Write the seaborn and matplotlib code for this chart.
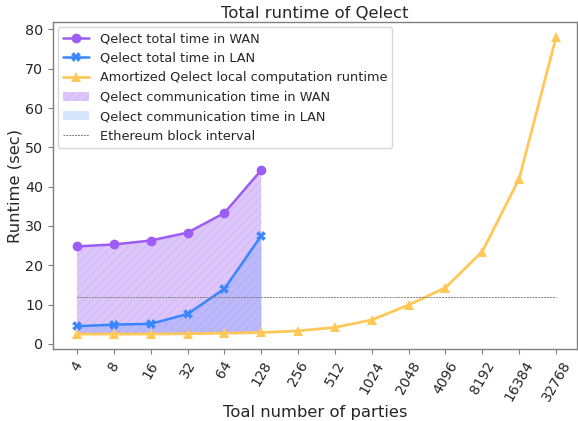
import numpy as np
import pandas as pd
import matplotlib
matplotlib.use("Agg")
import matplotlib.pyplot as plt
import seaborn as sns
from matplotlib.patches import Patch
from matplotlib.lines import Line2D

parties = ["4", "8", "16", "32", "64", "128", "256", "512", "1024", "2048",
           "4096", "8192", "16384", "32768"]
wan_total = [24.8, 25.3, 26.3, 28.3, 33.3, 44.2]
lan_total = [4.5, 4.9, 5.1, 7.6, 14.0, 27.5]
local_runtime = [2.5, 2.5, 2.5, 2.6, 2.7, 2.9, 3.3, 4.2, 6.1, 9.9, 14.3, 23.5, 42.0, 78.0]
eth_block = 12

c_wan = "#9d5cf3"
c_lan = "#3a86ff"
c_loc = "#ffc857"

sns.set_style("white")
plt.rcParams['font.family'] = ['DejaVu Sans']
plt.rcParams['hatch.linewidth'] = 0.5

fig = plt.figure(figsize=(5.78, 4.21), dpi=100)
ax = fig.add_axes([53/578, 1-349/421, (577-53)/578, (349-22)/421])

idx_all = np.arange(len(parties))
n = len(wan_total)
idx = idx_all[:n]

df_wan = pd.DataFrame({"x": idx, "y": wan_total})
df_lan = pd.DataFrame({"x": idx, "y": lan_total})
df_loc = pd.DataFrame({"x": idx_all, "y": local_runtime})

ax.fill_between(idx, local_runtime[:n], wan_total, facecolor=c_wan, alpha=0.35,
                hatch="////", edgecolor="#b58cf0", linewidth=0)
ax.fill_between(idx, local_runtime[:n], lan_total, facecolor=c_lan, alpha=0.2,
                linewidth=0)

sns.lineplot(data=df_wan, x="x", y="y", ax=ax, color=c_wan, marker="o",
             markersize=7, markeredgewidth=0, linewidth=1.8)
sns.lineplot(data=df_lan, x="x", y="y", ax=ax, color=c_lan, marker="X",
             markersize=7, markeredgewidth=0, linewidth=1.8)
sns.lineplot(data=df_loc, x="x", y="y", ax=ax, color=c_loc, marker="^",
             markersize=7, markeredgewidth=0, linewidth=2.0)
ax.plot([idx_all[0], idx_all[-1]], [eth_block, eth_block], color="gray",
        linestyle="--", linewidth=0.7, dashes=(2, 1))

ax.set_xticks(idx_all)
ax.set_xticklabels(parties, rotation=60, fontsize=10)
ax.set_yticks([0, 10, 20, 30, 40, 50, 60, 70, 80])
ax.tick_params(axis="y", labelsize=10.3)
ax.tick_params(axis="both", length=3.5, width=0.8, color="gray", bottom=True, left=True)
ax.set_xlim(-0.65, 13.57)
ax.set_ylim(-1.3, 81.9)
for s in ax.spines.values():
    s.set_color("gray")
    s.set_linewidth(1.0)

ax.set_xlabel("Toal number of parties", fontsize=11.8, labelpad=1)
ax.set_ylabel("Runtime (sec)", fontsize=11.8, labelpad=2)
ax.set_title("Total runtime of Qelect", fontsize=11.8, pad=3)

handles = [
    Line2D([], [], color=c_wan, marker="o", markersize=7, markeredgewidth=0, linewidth=1.8),
    Line2D([], [], color=c_lan, marker="X", markersize=7, markeredgewidth=0, linewidth=1.8),
    Line2D([], [], color=c_loc, marker="^", markersize=7, markeredgewidth=0, linewidth=2.0),
    Patch(facecolor=c_wan, alpha=0.35, hatch="////", edgecolor="#b58cf0", linewidth=0),
    Patch(facecolor=c_lan, alpha=0.2, linewidth=0),
    Line2D([], [], color="gray", linestyle="--", linewidth=0.7, dashes=(2, 1)),
]
labels = ["Qelect total time in WAN", "Qelect total time in LAN",
          "Amortized Qelect local computation runtime",
          "Qelect communication time in WAN", "Qelect communication time in LAN",
          "Ethereum block interval"]
ax.legend(handles, labels, loc="upper left", fontsize=9.3, frameon=True,
          borderaxespad=0.4, handlelength=2.0)

fig.savefig("out.png", dpi=100)
